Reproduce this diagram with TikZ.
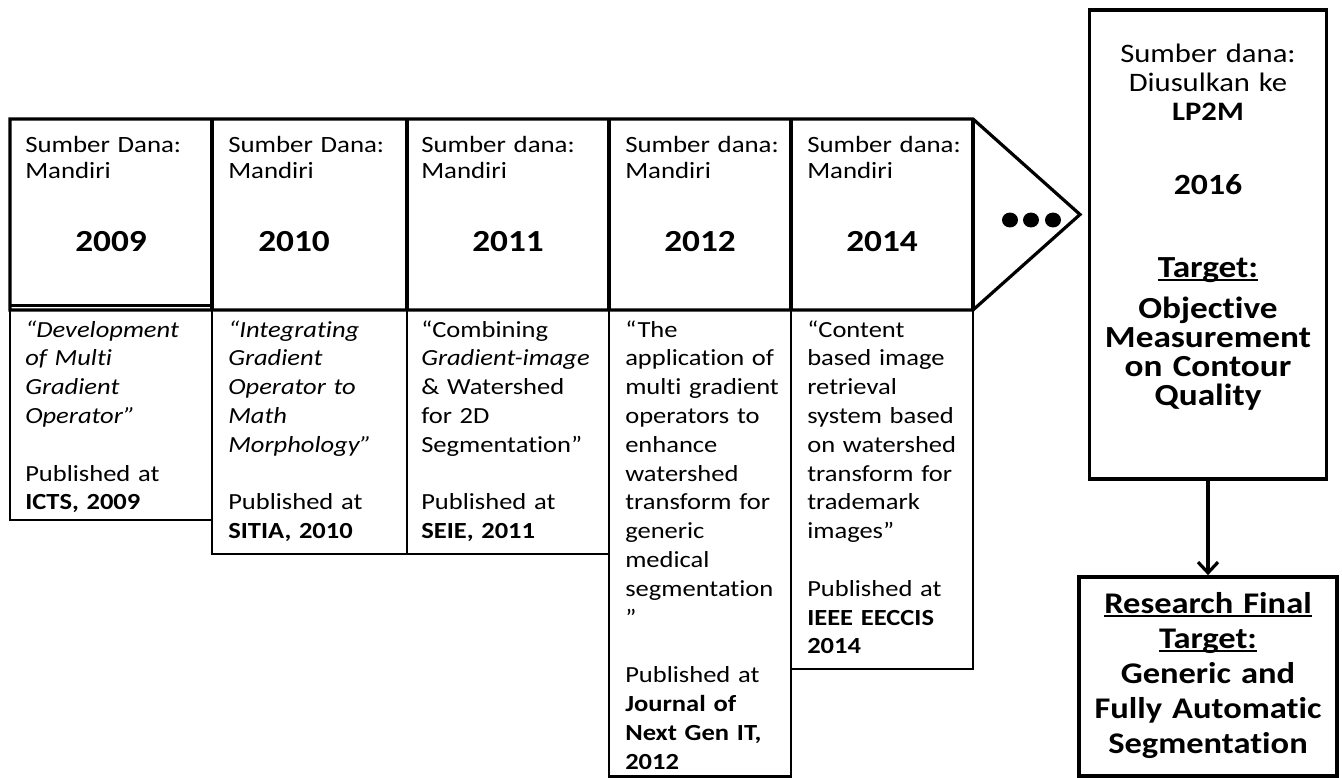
\documentclass[tikz,border=0pt]{standalone}
\usepackage{fontspec}
\setmainfont{Carlito}[FakeStretch=1.15, Ligatures=NoCommon]
\usetikzlibrary{arrows.meta}
\newcommand\myul[1]{\leavevmode\setbox0\hbox{#1}\rlap{\rule[-3pt]{\wd0}{1.6pt}}\box0}
\setlength{\lineskiplimit}{-30pt}
\tikzset{
  frame/.style={line width=2.4pt, line join=miter},
  lowbox/.style={draw, line width=1.7pt},
  bigbox/.style={draw, line width=2.8pt, inner sep=0pt},
  arrowline/.style={line width=2.4pt, -{Straight Barb[length=8pt,width=15pt,line width=2.4pt]}},
  txt/.style={anchor=base west, inner sep=0pt, text width=200pt, align=left,
    font=\fontsize{17.3pt}{21.6pt}\selectfont},
  toptxt/.style={anchor=base west, inner sep=0pt, text width=200pt, align=left,
    font=\fontsize{17.5pt}{19.5pt}\selectfont},
  yeartxt/.style={anchor=base, inner sep=0pt, font=\bfseries\fontsize{23pt}{26pt}\selectfont},
  rtxt/.style={anchor=base, inner sep=0pt, text width=170pt, align=center,
    font=\fontsize{20pt}{21.75pt}\selectfont},
  rbold/.style={anchor=base, inner sep=0pt, text width=175pt, align=center,
    font=\bfseries\fontsize{23pt}{21.75pt}\selectfont},
  fbold/.style={anchor=base, inner sep=0pt, text width=190pt, align=center,
    font=\bfseries\fontsize{22.5pt}{26.25pt}\selectfont},
}
\begin{document}
\begin{tikzpicture}[x=0.75pt,y=-0.75pt]
\useasboundingbox[fill=white] (0,0) rectangle (1342,778);

% lower boxes
\draw[lowbox] (10,310) rectangle (212,520);
\draw[lowbox] (212,310) rectangle (407,554);
\draw[lowbox] (407,310) rectangle (609,554);
\draw[lowbox] (609,310) rectangle (791,776.5);
\draw[lowbox] (791,310) rectangle (973,669);

% top arrow frame
\draw[frame] (10,119) -- (973,119) -- (1080,214.5) -- (973,310) -- (10,310) -- cycle;
\foreach \x in {212,407,609,791,973} \draw[frame] (\x,119) -- (\x,310);
\draw[frame] (10,305.5) -- (212,305.5);

% dots
\foreach \x in {1010,1031,1053} \fill (\x,220) ellipse [x radius=6pt, y radius=5.6pt];

% top texts
\node[toptxt] (s1) at (25,152) {Sumber Dana:\\Mandiri};
\node[toptxt] (s2) at (228,152) {Sumber Dana:\\Mandiri};
\node[toptxt] (s3) at (421,152) {Sumber dana:\\Mandiri};
\node[toptxt] (s4) at (625,152) {Sumber dana:\\Mandiri};
\node[toptxt] (s5) at (807,152) {Sumber dana:\\Mandiri};

\node[yeartxt] (y1) at (111,251) {2009};
\node[yeartxt] (y2) at (294,251) {2010};
\node[yeartxt] (y3) at (508,251) {2011};
\node[yeartxt] (y4) at (700,251) {2012};
\node[yeartxt] (y5) at (882,251) {2014};

% lower texts
\node[txt] (t1) at (25,337) {\textit{“Development}\\\textit{of Multi}\\\textit{Gradient}\\\textit{Operator”}\\[21.6pt]Published at\\\textbf{ICTS, 2009}};
\node[txt] (t2) at (228,337) {\textit{“Integrating}\\\textit{Gradient}\\\textit{Operator to}\\\textit{Math}\\\textit{Morphology”}\\[21.6pt]Published at\\\textbf{SITIA, 2010}};
\node[txt] (t3) at (421,337) {“Combining\\\textit{Gradient-image}\\\& Watershed\\for 2D\\Segmentation”\\[21.6pt]Published at\\\textbf{SEIE, 2011}};
\node[txt] (t4) at (625,337) {“The\\application of\\multi gradient\\operators to\\enhance\\watershed\\transform for\\generic\\medical\\segmentation\\”\\[21.6pt]Published at\\\textbf{Journal of}\\\textbf{Next Gen IT,}\\\textbf{2012}};
\node[txt] (t5) at (807,337) {“Content\\based image\\retrieval\\system based\\on watershed\\transform for\\trademark\\images”\\[21.6pt]Published at\\\textbf{IEEE EECCIS}\\\textbf{2014}};

% right box
\node[bigbox, minimum width=177.75pt, minimum height=351.75pt] (r2016) at (1208,244.5) {};
\node[rtxt] (r1) at (1208,62) {Sumber dana:\\Diusulkan ke\\\textbf{LP2M}};
\node[rbold, font=\bfseries\fontsize{22pt}{24pt}\selectfont] (r2) at (1208,194) {2016};
\node[rbold] (r3) at (1208,277) {\myul{Target:}};
\node[rbold] (r4) at (1208,318) {Objective\\Measurement\\on Contour\\Quality};

% final box
\node[bigbox, minimum width=193.5pt, minimum height=149.25pt] (final) at (1208,676.5) {};
\node[fbold] (f1) at (1208,613) {\myul{Research Final}\\\myul{Target:}\\Generic and\\Fully Automatic\\Segmentation};

\draw[arrowline] (r2016.south) -- (final.north);
\end{tikzpicture}
\end{document}
